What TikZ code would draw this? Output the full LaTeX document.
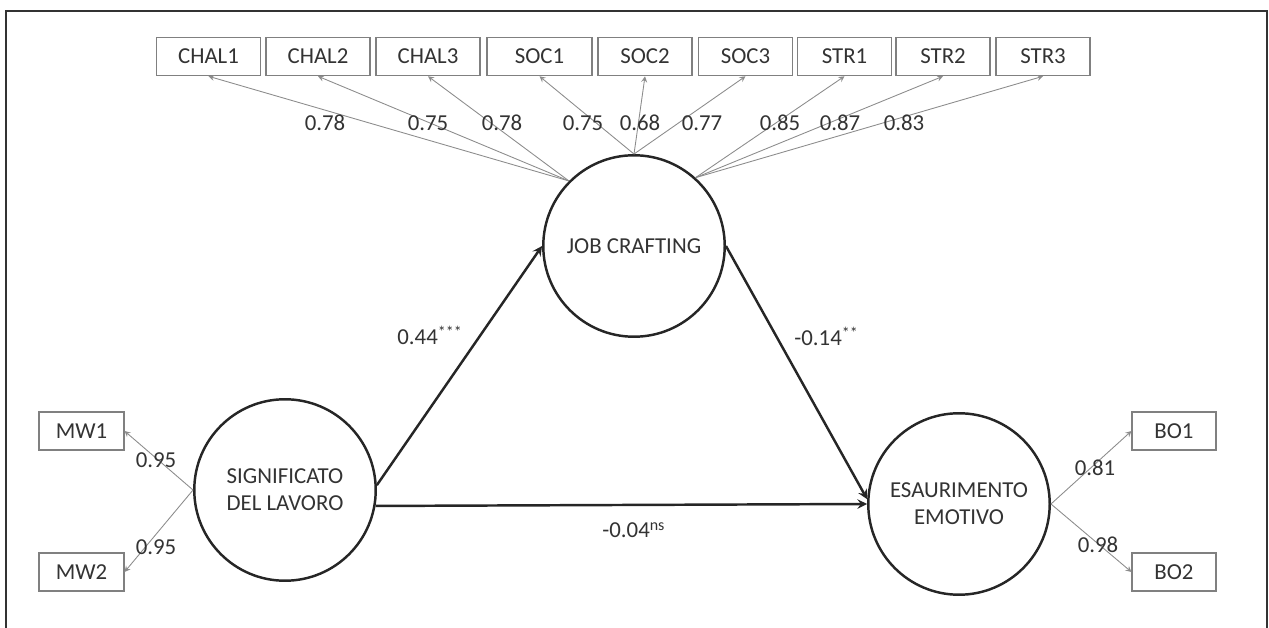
\documentclass[tikz,border=0pt]{standalone}
\usepackage{fontspec}
\setmainfont{Carlito}
\usepackage{tikz}
\usetikzlibrary{arrows}
\tikzstyle{indicator} = [rectangle, minimum width=1.88cm, minimum height=0.77cm, inner sep=0pt, text centered, draw=black!50, line width=0.6pt, text=black!80]
\tikzstyle{latent} = [circle, minimum size=3.63cm, inner sep=0pt, align=center, draw=black!85, line width=1.4pt, text=black!80]
\tikzstyle{arrow} = [line width=1.4pt, draw=black!85, ->, >=stealth]
\tikzstyle{loading} = [line width=0.5pt, draw=black!45, ->, >=stealth]
\tikzstyle{coef} = [inner sep=0pt, anchor=base, text=black!80]

\begin{document}
\begin{tikzpicture}[x=0.02cm, y=-0.02cm, font=\fontsize{13pt}{15.5pt}\selectfont]

    \useasboundingbox (0,0) rectangle (1269,628);
    % frame
    \draw[line width=1.1pt, black!80] (6,628) -- (6,11) -- (1267,11) -- (1267,628);

    % latent variables
    \node (jc) [latent] at (634,246) {JOB CRAFTING};
    \node (sig) [latent] at (285,490) {SIGNIFICATO\\DEL LAVORO};
    \node (ea) [latent] at (959,504) {ESAURIMENTO\\EMOTIVO};

    % indicators of job crafting
    \node (chal1) [indicator, minimum width=2.08cm] at (208.5,56.5) {CHAL1};
    \node (chal2) [indicator, minimum width=2.08cm] at (318,56.5) {CHAL2};
    \node (chal3) [indicator, minimum width=2.08cm] at (428,56.5) {CHAL3};
    \node (soc1) [indicator, minimum width=2.1cm] at (539.5,56.5) {SOC1};
    \node (soc2) [indicator] at (645,56.5) {SOC2};
    \node (soc3) [indicator] at (745.5,56.5) {SOC3};
    \node (str1) [indicator] at (844.5,56.5) {STR1};
    \node (str2) [indicator] at (943,56.5) {STR2};
    \node (str3) [indicator] at (1043,56.5) {STR3};

    % other indicators
    \node (mw1) [indicator, minimum width=1.7cm, minimum height=0.76cm] at (81.5,431) {MW1};
    \node (mw2) [indicator, minimum width=1.7cm, minimum height=0.76cm] at (81.5,572) {MW2};
    \node (bo1) [indicator, minimum width=1.68cm, minimum height=0.76cm] at (1174,431) {BO1};
    \node (bo2) [indicator, minimum width=1.68cm, minimum height=0.76cm] at (1174,572) {BO2};

    % loadings
    \draw[loading] (jc.135) -- (chal1.south);
    \draw[loading] (jc.135) -- (chal2.south);
    \draw[loading] (jc.135) -- (chal3.south);
    \draw[loading] (jc.90) -- (soc1.south);
    \draw[loading] (jc.90) -- (soc2.south);
    \draw[loading] (jc.90) -- (soc3.south);
    \draw[loading] (jc.48) -- (str1.south);
    \draw[loading] (jc.48) -- (str2.south);
    \draw[loading] (jc.48) -- (str3.south);
    \draw[loading] (sig.west) -- (mw1.east);
    \draw[loading] (sig.west) -- (mw2.east);
    \draw[loading] (ea.east) -- (bo1.west);
    \draw[loading] (ea.east) -- (bo2.west);

    \node (lchal1) [coef] at (325,131) {0.78};
    \node (lchal2) [coef] at (428,131) {0.75};
    \node (lchal3) [coef] at (502,131) {0.78};
    \node (lsoc1) [coef] at (583,131) {0.75};
    \node (lsoc2) [coef] at (640,131) {0.68};
    \node (lsoc3) [coef] at (702,131) {0.77};
    \node (lstr1) [coef] at (780,131) {0.85};
    \node (lstr2) [coef] at (840,131) {0.87};
    \node (lstr3) [coef] at (904,131) {0.83};
    \node (lmw1) [coef] at (156,468) {0.95};
    \node (lmw2) [coef] at (156,554) {0.95};
    \node (lbo1) [coef] at (1095,476) {0.81};
    \node (lbo2) [coef] at (1098,552) {0.98};

    % structural paths
    \draw[arrow] (sig.3) -- (jc.west);
    \draw[arrow] (jc.east) -- (ea.177);
    \draw[arrow] (sig.-10) -- (ea.west);

    \node (la) [coef, anchor=base west] at (397,345) {0.44\textsuperscript{***}};
    \node (lb) [coef, anchor=base west] at (794,346) {-0.14\textsuperscript{**}};
    \node (lc) [coef, anchor=base west] at (602,538) {-0.04\textsuperscript{ns}};

\end{tikzpicture}
\end{document}
